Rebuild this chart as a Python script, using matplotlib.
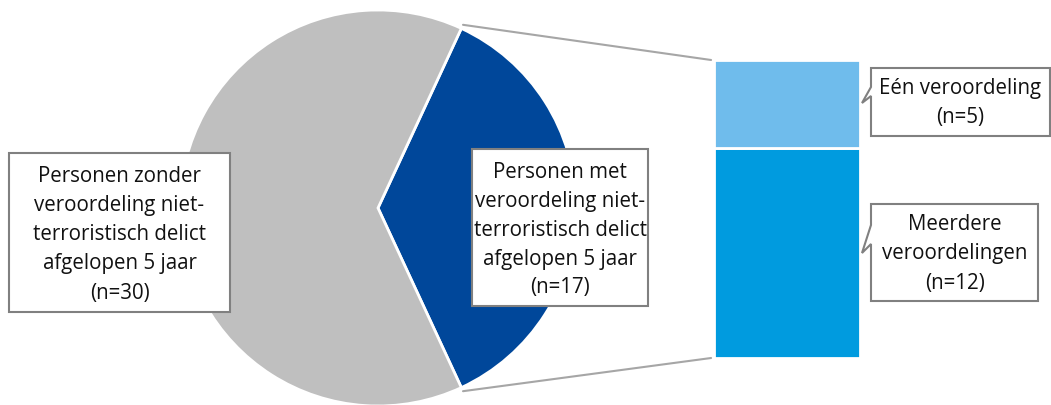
import numpy as np
import matplotlib
matplotlib.use("Agg")
import matplotlib.pyplot as plt
from matplotlib.patches import Rectangle, Polygon, ConnectionPatch

# ---- data ----
pie_labels = ["Personen met\nveroordeling niet-\nterroristisch delict\nafgelopen 5 jaar\n(n=17)",
              "Personen zonder\nveroordeling niet-\nterroristisch delict\nafgelopen 5 jaar\n(n=30)"]
pie_values = [17, 30]
bar_labels = ["Meerdere\nveroordelingen\n(n=12)", "Eén veroordeling\n(n=5)"]
bar_values = [12, 5]

pie_colors = ["#00479A", "#BFBFBF"]
bar_colors = ["#009BDF", "#6FBCEC"]

W, H = 1051, 405
fig = plt.figure(figsize=(W / 100, H / 100), dpi=100)
plt.rcParams['font.family'] = ['Open Sans', 'DejaVu Sans']

def px_axes(x0, y0, x1, y1):
    # pixel box (top-left origin) -> figure fraction
    return [x0 / W, 1 - y1 / H, (x1 - x0) / W, (y1 - y0) / H]

# ---- pie ----
cx, cy, r = 378, 208, 198
ax_pie = fig.add_axes(px_axes(cx - r, cy - r, cx + r, cy + r))
half = pie_values[0] / sum(pie_values) * 180
ax_pie.pie(pie_values, colors=pie_colors, startangle=-half, counterclock=True,
           wedgeprops=dict(edgecolor="white", linewidth=2.0))
ax_pie.set_xlim(-1, 1)
ax_pie.set_ylim(-1, 1)
ax_pie.set_aspect("equal")
ax_pie.axis("off")

# ---- bar ----
ax_bar = fig.add_axes(px_axes(714, 60, 860, 358))
bottom = 0
for v, c in zip(bar_values, bar_colors):
    ax_bar.bar(0.5, v, width=1.0, bottom=bottom, color=c, edgecolor="white", linewidth=2.0)
    bottom += v
ax_bar.set_xlim(0, 1)
ax_bar.set_ylim(0, sum(bar_values))
ax_bar.axis("off")

# ---- connector lines ----
a = np.deg2rad(half)
for sgn, yb in [(1, sum(bar_values)), (-1, 0)]:
    con = ConnectionPatch(xyA=(np.cos(a) * 1.02, sgn * np.sin(a) * 1.02), coordsA=ax_pie.transData,
                          xyB=(-0.02, yb), coordsB=ax_bar.transData,
                          color="#A6A6A6", linewidth=1.5)
    fig.add_artist(con)

# ---- overlay for labels ----
ov = fig.add_axes([0, 0, 1, 1], zorder=10)
ov.set_xlim(0, W)
ov.set_ylim(H, 0)
ov.axis("off")
ov.patch.set_alpha(0)

fs = 14.8
ls = 1.5
edge = "#808080"
tc = "#111111"

# left box (grey slice)
ov.add_patch(Rectangle((9, 153), 221, 159, facecolor="white", edgecolor=edge, linewidth=1.5))
ov.text(119.5, 235, pie_labels[1], ha="center", va="center", fontsize=fs, linespacing=ls, color=tc)

# middle box (blue slice)
ov.add_patch(Rectangle((472, 149), 176, 157, facecolor="white", edgecolor=edge, linewidth=1.5))
ov.text(560, 230, pie_labels[0], ha="center", va="center", fontsize=fs, linespacing=ls, color=tc)

# callouts for bar segments
def callout(x0, y0, x1, y1, ya, yb, tipx, tipy):
    pts = [(x0, y0), (x1, y0), (x1, y1), (x0, y1), (x0, yb), (tipx, tipy), (x0, ya)]
    ov.add_patch(Polygon(pts, closed=True, facecolor="white", edgecolor=edge, linewidth=1.5))

callout(871, 68, 1050, 136, 87, 96, 862, 103)
ov.text(960, 103, bar_labels[1], ha="center", va="center", fontsize=fs, linespacing=ls, color=tc)

callout(871, 204, 1038, 301, 225, 244, 862, 253)
ov.text(954.5, 254, bar_labels[0], ha="center", va="center", fontsize=fs, linespacing=ls, color=tc)

fig.savefig("out.png", dpi=100, facecolor="white")
